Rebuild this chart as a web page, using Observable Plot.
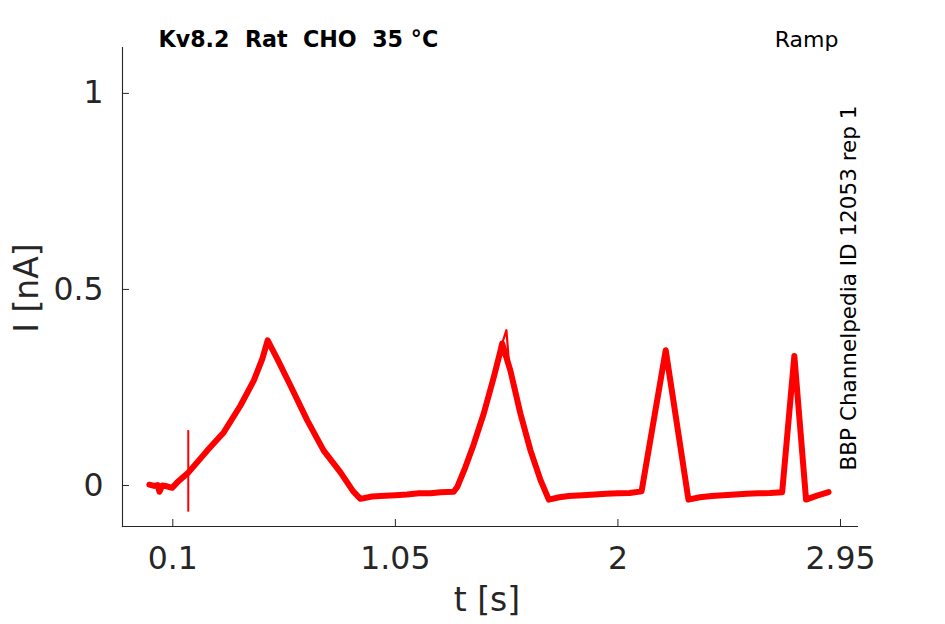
<!DOCTYPE html>
<html><head><meta charset="utf-8">
<script src="https://cdn.jsdelivr.net/npm/d3@7"></script>
<script src="https://cdn.jsdelivr.net/npm/@observablehq/plot@0.6"></script>
<style>
body{margin:0;background:#fff;font-family:"DejaVu Sans",sans-serif}
#chart{width:945px;height:624px}
</style>
</head><body><div id="chart"></div>
<script>
// Trace: time (s) and current (nA)
const time    = [0.000, 0.020, 0.035, 0.043, 0.055, 0.075, 0.097, 0.119, 0.168, 0.247, 0.318, 0.389, 0.446, 0.482, 0.505, 0.546, 0.602, 0.674, 0.744, 0.815, 0.870, 0.901, 0.950, 0.986, 1.050, 1.100, 1.150, 1.200, 1.243, 1.299, 1.314, 1.349, 1.385, 1.427, 1.470, 1.499, 1.506, 1.541, 1.584, 1.627, 1.670, 1.705, 1.750, 1.790, 1.850, 1.900, 1.950, 2.000, 2.050, 2.101, 2.204, 2.301, 2.350, 2.400, 2.450, 2.500, 2.550, 2.600, 2.650, 2.701, 2.753, 2.803, 2.850, 2.899];
const current = [0.002, -0.001, 0.001, -0.016, 0.000, -0.002, -0.006, 0.008, 0.034, 0.089, 0.136, 0.204, 0.268, 0.323, 0.370, 0.323, 0.255, 0.166, 0.089, 0.034, -0.015, -0.034, -0.028, -0.027, -0.025, -0.023, -0.020, -0.020, -0.017, -0.016, -0.004, 0.047, 0.106, 0.183, 0.276, 0.344, 0.362, 0.293, 0.183, 0.089, 0.013, -0.036, -0.030, -0.027, -0.025, -0.023, -0.021, -0.020, -0.019, -0.015, 0.345, -0.036, -0.030, -0.027, -0.025, -0.023, -0.021, -0.020, -0.019, -0.017, 0.330, -0.036, -0.026, -0.017];
// Transient spikes (thin)
const spikeT    = [0.166];
const spikeHigh = [0.140];
const spikeLow  = [-0.068];
const spike2T = [1.496, 1.510, 1.524, 1.534];
const spike2I = [0.330, 0.370, 0.396, 0.320];
// Axes
const xTicks = [0.1, 1.05, 2, 2.95];
const yTicks = [0, 0.5, 1];
const xDomain = [-0.1147, 3.0226];
const yDomain = [-0.1046, 1.117];
const title = "Kv8.2  Rat  CHO  35 °C";
const protocol = "Ramp";
const sideNote = "BBP Channelpedia ID 12053 rep 1";
const xLabel = "t [s]";
const yLabel = "I [nA]";

const trace = time.map((t, i) => ({t, I: current[i]}));
const spike2 = spike2T.map((t, i) => ({t, I: spike2I[i]}));
const ink = "#262626";

const chart = Plot.plot({
  width: 945, height: 624,
  marginLeft: 122, marginRight: 88, marginTop: 47, marginBottom: 98,
  style: {fontFamily: "DejaVu Sans, sans-serif", color: ink, background: "#fff"},
  x: {domain: xDomain},
  y: {domain: yDomain},
  marks: [
    Plot.frame({anchor: "left", stroke: ink, strokeWidth: 1.1}),
    Plot.frame({anchor: "bottom", stroke: ink, strokeWidth: 1.1}),
    // inward ticks
    Plot.axisY(yTicks, {tickSize: 7, dx: 7, tickFormat: () => "", label: null, stroke: ink}),
    Plot.axisX(xTicks, {tickSize: 7, dy: -7, tickFormat: () => "", label: null, stroke: ink}),
    // tick labels
    Plot.axisY(yTicks, {tickSize: 0, tickPadding: 19, fontSize: 31.5, tickFormat: d => String(d), label: null, fill: ink}),
    Plot.axisX(xTicks, {tickSize: 0, tickPadding: 20, fontSize: 31.5, tickFormat: d => String(d), label: null, fill: ink}),
    // trace
    Plot.line(trace, {x: "t", y: "I", stroke: "#ff0000", strokeWidth: 6, strokeLinejoin: "round"}),
    Plot.line(spike2, {x: "t", y: "I", stroke: "#ff0000", strokeWidth: 2.2}),
    Plot.ruleX(spikeT, {x: d => d, y1: (d, i) => spikeHigh[i], y2: (d, i) => spikeLow[i], stroke: "#ff0000", strokeWidth: 2}),
    // texts
    Plot.text([title], {frameAnchor: "top-left", dx: 36, dy: -8, textAnchor: "start", lineAnchor: "middle", fontSize: 22.2, fontWeight: "bold", fill: "#000"}),
    Plot.text([protocol], {frameAnchor: "top-right", dx: -19, dy: -8, textAnchor: "end", lineAnchor: "middle", fontSize: 22, fill: "#000"}),
    Plot.text([sideNote], {frameAnchor: "right", dx: -8, dy: 1, rotate: -90, textAnchor: "middle", lineAnchor: "middle", fontSize: 21.5, fill: "#000"}),
    Plot.text([yLabel], {frameAnchor: "left", dx: -95, dy: 1, rotate: -90, textAnchor: "middle", lineAnchor: "middle", fontSize: 33, fill: ink}),
    Plot.text([xLabel], {frameAnchor: "bottom", dx: -3, dy: 74, textAnchor: "middle", lineAnchor: "middle", fontSize: 33, fill: ink})
  ]
});
document.getElementById("chart").appendChild(chart);
</script>
</body></html>
